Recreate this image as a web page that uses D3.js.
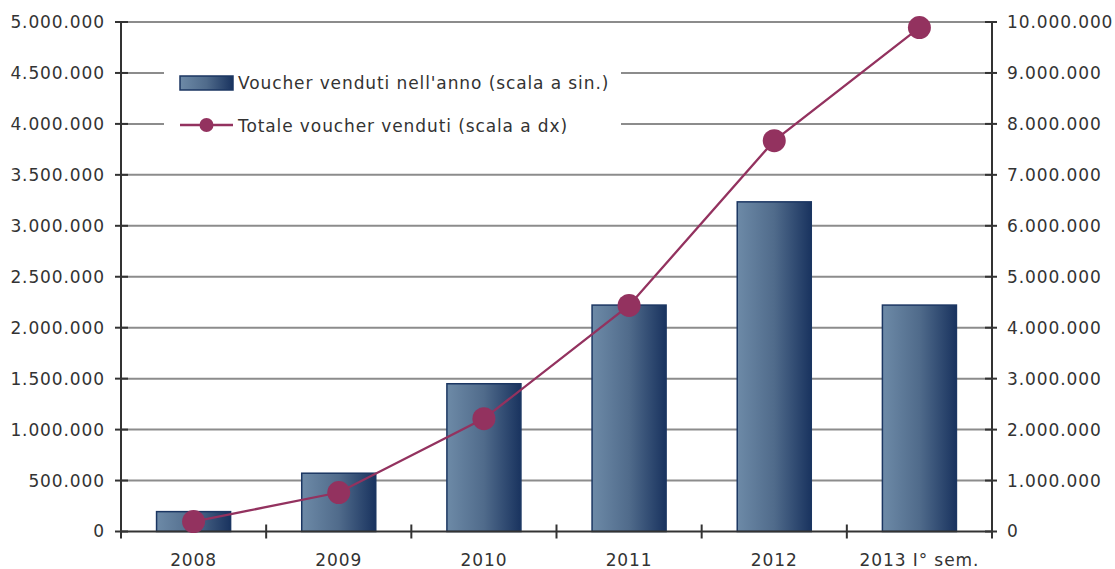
<!DOCTYPE html>
<html><head><meta charset="utf-8">
<script src="https://cdn.jsdelivr.net/npm/d3@7"></script>
<style>body{margin:0;background:#fff}svg{display:block}text{font-family:"DejaVu Sans",Verdana,sans-serif;fill:#333;letter-spacing:0.9px}</style>
</head><body><svg id="c" width="1115" height="569"></svg>
<script>
const categories = ["2008","2009","2010","2011","2012","2013 I° sem."];
const annualVouchers = [195000, 572000, 1450000, 2222000, 3235000, 2222000];
const totalVouchers = [195000, 765000, 2215000, 4437000, 7670000, 9890000];
const leftTicks = [0,500000,1000000,1500000,2000000,2500000,3000000,3500000,4000000,4500000,5000000];
const rightTicks = [0,1000000,2000000,3000000,4000000,5000000,6000000,7000000,8000000,9000000,10000000];
const seriesNames = ["Voucher venduti nell'anno (scala a sin.)","Totale voucher venduti (scala a dx)"];

const svg = d3.select("#c");
const L = 121, R = 992, T = 22, B = 531.5;
const x = d3.scaleBand().domain(categories).range([L, R]).paddingInner(0.49).paddingOuter(0.245);
const xb = d3.scaleBand().domain(categories).range([L, R]);
const yL = d3.scaleLinear().domain([0, 5000000]).range([B, T]);
const yR = d3.scaleLinear().domain([0, 10000000]).range([B, T]);
const fmt = v => d3.format(",")(v).replace(/,/g, ".");

const defs = svg.append("defs");
const g = defs.append("linearGradient").attr("id","bg").attr("x1","0").attr("x2","1").attr("y1","0").attr("y2","0");
g.append("stop").attr("offset","0").attr("stop-color","#6d8aa7");
g.append("stop").attr("offset","0.5").attr("stop-color","#506b8b");
g.append("stop").attr("offset","1").attr("stop-color","#19335f");

// gridlines
svg.append("g").selectAll("line").data(leftTicks.filter(d=>d>0)).join("line")
  .attr("x1", L).attr("x2", R).attr("y1", d=>yL(d)).attr("y2", d=>yL(d))
  .attr("stroke","#8c8c8c").attr("stroke-width",2);

// legend background
svg.append("rect").attr("x",164).attr("y",50).attr("width",457).attr("height",95).attr("fill","#fff");

// bars
svg.append("g").selectAll("rect").data(categories).join("rect")
  .attr("x", d=>x(d)).attr("width", x.bandwidth())
  .attr("y", (d,i)=>yL(annualVouchers[i])).attr("height",(d,i)=>B-yL(annualVouchers[i]))
  .attr("fill","url(#bg)").attr("stroke","#1b3662").attr("stroke-width",1.5);

// axes
const axL = d3.axisLeft(yL).tickValues(leftTicks).tickFormat(fmt).tickSize(0).tickPadding(16);
const gl = svg.append("g").attr("transform",`translate(${L},0)`).call(axL);
const axR = d3.axisRight(yR).tickValues(rightTicks).tickFormat(fmt).tickSize(0).tickPadding(15);
const gr = svg.append("g").attr("transform",`translate(${R},0)`).call(axR);
const axB = d3.axisBottom(xb).tickSize(0).tickPadding(22);
const gb = svg.append("g").attr("transform",`translate(0,${B})`).call(axB);
[gl,gr,gb].forEach(a=>{a.select(".domain").remove(); a.selectAll("text").style("font-size","17px").attr("fill","#333").style("font-family","'DejaVu Sans',Verdana,sans-serif");});
// axis lines & cross ticks
svg.append("line").attr("x1",L).attr("x2",L).attr("y1",T).attr("y2",B+7).attr("stroke","#333").attr("stroke-width",2);
svg.append("line").attr("x1",R).attr("x2",R).attr("y1",T).attr("y2",B+7).attr("stroke","#333").attr("stroke-width",2);
svg.append("line").attr("x1",L).attr("x2",R).attr("y1",B).attr("y2",B).attr("stroke","#333").attr("stroke-width",2);
svg.append("g").selectAll("line").data(leftTicks).join("line")
  .attr("x1",L-6).attr("x2",L+7).attr("y1",d=>yL(d)).attr("y2",d=>yL(d)).attr("stroke","#333").attr("stroke-width",2);
svg.append("g").selectAll("line").data(rightTicks).join("line")
  .attr("x1",R-7).attr("x2",R+5).attr("y1",d=>yR(d)).attr("y2",d=>yR(d)).attr("stroke","#333").attr("stroke-width",2);
svg.append("g").selectAll("line").data(categories.slice(1)).join("line")
  .attr("x1",d=>xb(d)).attr("x2",d=>xb(d)).attr("y1",B-7).attr("y2",B+7).attr("stroke","#333").attr("stroke-width",2);

// line series
const cx = d => x(d) + x.bandwidth()/2;
const line = d3.line().x((d,i)=>cx(categories[i])).y(d=>yR(d));
svg.append("path").datum(totalVouchers).attr("d",line).attr("fill","none").attr("stroke","#93325f").attr("stroke-width",2.3);
svg.append("g").selectAll("circle").data(totalVouchers).join("circle")
  .attr("cx",(d,i)=>cx(categories[i])).attr("cy",d=>yR(d)).attr("r",11.5).attr("fill","#93325f");

// legend
const lg = svg.append("g");
lg.append("rect").attr("x",180).attr("y",76).attr("width",53).attr("height",14).attr("fill","url(#bg)").attr("stroke","#1b3662").attr("stroke-width",1.5);
lg.append("line").attr("x1",180).attr("x2",233).attr("y1",125).attr("y2",125).attr("stroke","#93325f").attr("stroke-width",2.3);
lg.append("circle").attr("cx",206.5).attr("cy",125).attr("r",7).attr("fill","#93325f");
lg.append("text").attr("x",238).attr("y",83).attr("dy","0.35em").style("font-size","17px").text(seriesNames[0]);
lg.append("text").attr("x",238).attr("y",126).attr("dy","0.35em").style("font-size","17px").text(seriesNames[1]);
</script></body></html>
